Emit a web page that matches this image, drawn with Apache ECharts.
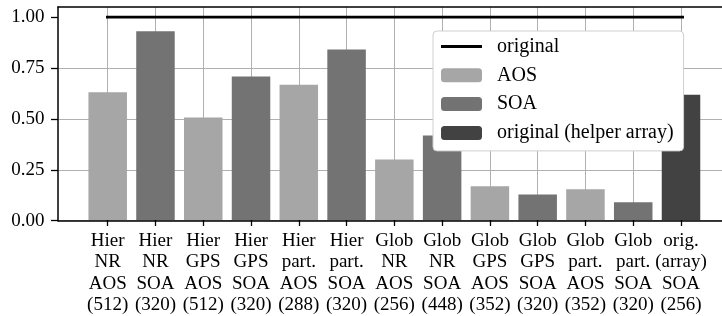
<!DOCTYPE html>
<html>
<head>
<meta charset="utf-8">
<script src="https://cdn.jsdelivr.net/npm/echarts@6/dist/echarts.min.js"></script>
<style>
  html, body { margin: 0; padding: 0; background: #fff; }
  #chart { width: 722px; height: 316px; }
</style>
</head>
<body>
<div id="chart"></div>
<script>
// kernel variants (block size in brackets)
const categories = [
    'Hier\nNR\nAOS\n(512)', 'Hier\nNR\nSOA\n(320)',
    'Hier\nGPS\nAOS\n(512)', 'Hier\nGPS\nSOA\n(320)',
    'Hier\npart.\nAOS\n(288)', 'Hier\npart.\nSOA\n(320)',
    'Glob\nNR\nAOS\n(256)', 'Glob\nNR\nSOA\n(448)',
    'Glob\nGPS\nAOS\n(352)', 'Glob\nGPS\nSOA\n(320)',
    'Glob\npart.\nAOS\n(352)', 'Glob\npart.\nSOA\n(320)',
    'orig.\n(array)\nSOA\n(256)'
];
const runtimes = [0.63, 0.93, 0.505, 0.707, 0.667, 0.84, 0.298, 0.416, 0.166, 0.126, 0.151, 0.087, 0.618];
const layouts = ['AOS', 'SOA', 'AOS', 'SOA', 'AOS', 'SOA', 'AOS', 'SOA', 'AOS', 'SOA', 'AOS', 'SOA', 'original (helper array)'];
const originalLevel = 1.0;
const yTicks = [0, 0.25, 0.5, 0.75, 1.0];

const FONT = 'Liberation Serif';
const groups = [
    { name: 'AOS', color: '#a6a6a6' },
    { name: 'SOA', color: '#737373' },
    { name: 'original (helper array)', color: '#424242' }
];

const myChart = echarts.init(document.getElementById('chart'));

let barSeries = groups.map(function (g) {
    return {
        name: g.name,
        type: 'bar',
        xAxisIndex: 1,
        yAxisIndex: 1,
        barWidth: 38.5,
        barGap: '-100%',
        clip: false,
        itemStyle: { color: g.color },
        data: runtimes.map(function (v, i) { return layouts[i] === g.name ? v : '-'; })
    };
});

let option = {
    animation: false,
    textStyle: { fontFamily: FONT, color: '#000' },
    grid: [
        { left: 58, right: -9, top: 7, bottom: 95.3 },
        { left: 107.7, right: 41, top: 7, bottom: 95.3 }
    ],
    xAxis: [
        {
            // frame: bottom spine
            gridIndex: 0, type: 'value', min: 0, max: 1,
            axisLine: { show: true, lineStyle: { color: '#000', width: 1.5 } },
            axisTick: { show: false }, axisLabel: { show: false }, splitLine: { show: false }
        },
        {
            gridIndex: 1, type: 'category', boundaryGap: false, data: categories,
            axisLine: { show: false },
            axisTick: { show: true, length: 6, lineStyle: { color: '#000', width: 1.3 } },
            axisLabel: {
                interval: 0, margin: 10, color: '#000', fontFamily: FONT, fontSize: 19,
                lineHeight: 21.5, align: 'center'
            },
            splitLine: { show: true, lineStyle: { color: '#b0b0b0', width: 1 } }
        },
        {
            gridIndex: 1, type: 'value', min: 0, max: categories.length - 1, show: false
        },
        {
            // frame: top spine
            gridIndex: 0, type: 'value', position: 'top', min: 0, max: 1,
            axisLine: { show: true, lineStyle: { color: '#000', width: 1.5 } },
            axisTick: { show: false }, axisLabel: { show: false }, splitLine: { show: false }
        }
    ],
    yAxis: [
        {
            gridIndex: 0, type: 'value', min: 0, max: 1.05,
            axisLine: { show: true, lineStyle: { color: '#000', width: 1.5 } },
            axisTick: { show: true, length: 7, customValues: yTicks, lineStyle: { color: '#000', width: 1.3 } },
            axisLabel: {
                customValues: yTicks, margin: 13.5, color: '#000', fontFamily: FONT, fontSize: 19,
                formatter: function (v) { return v.toFixed(2); }
            },
            splitLine: { show: true, showMaxLine: false, lineStyle: { color: '#b0b0b0', width: 1 } }
        },
        {
            gridIndex: 1, type: 'value', min: 0, max: 1.05, show: false
        }
    ],
    legend: {
        orient: 'vertical',
        left: 433, top: 31,
        padding: [5.5, 10, 8, 8],
        itemWidth: 41, itemHeight: 14, itemGap: 8.8,
        backgroundColor: '#fff',
        borderColor: '#cfcfcf', borderWidth: 1, borderRadius: 4,
        textStyle: { fontFamily: FONT, fontSize: 20, lineHeight: 20, color: '#000', padding: [0, 0, 0, 10] },
        data: [
            { name: 'original', icon: 'path://M0,0 L41,0 L41,2.8 L0,2.8 Z', itemStyle: { color: '#000' } },
            'AOS', 'SOA', 'original (helper array)'
        ]
    },
    series: [{
        name: 'original',
        type: 'line',
        xAxisIndex: 2,
        yAxisIndex: 1,
        clip: false,
        symbol: 'none',
        z: 3,
        lineStyle: { color: '#000', width: 2.8 },
        itemStyle: { color: '#000' },
        data: [[-0.4, originalLevel], [categories.length - 1 + 0.4, originalLevel]]
    }].concat(barSeries)
};

option && myChart.setOption(option);
</script>
</body>
</html>
